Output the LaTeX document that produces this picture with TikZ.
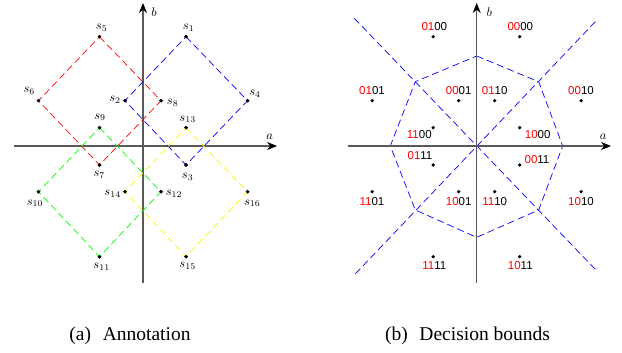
\documentclass[tikz,border=0pt]{standalone}
\usepackage{fontspec}
\setmainfont{Liberation Serif}
\newfontfamily\labfont{Liberation Sans}
\usetikzlibrary{arrows.meta}
\begin{document}
\begin{tikzpicture}[x=1pt,y=-1pt,
  dot/.style={circle,fill=black,inner sep=0pt,minimum size=3.6pt},
  axis/.style={draw=black!65,line width=1.1pt,-{Stealth[black,length=10pt,width=8pt]}},
  slbl/.style={inner sep=0pt,font=\fontsize{10}{12}\selectfont,scale=1.25,transform shape},
  blbl/.style={inner sep=0pt,font=\fontsize{11.5}{13}\selectfont\labfont},
  sq/.style={line width=0.7pt,dash pattern=on 7pt off 4pt},
  bound/.style={draw=blue,line width=0.7pt,dash pattern=on 7pt off 4pt},
  captxt/.style={inner sep=0pt,anchor=base,font=\fontsize{19.5}{22}\selectfont}]
\useasboundingbox (0,0) rectangle (622,353);
% ---------------- left panel ----------------
\coordinate (lw) at (14,146); \coordinate (le) at (277,146);
\coordinate (ls) at (143,283); \coordinate (ln) at (143,3);
\draw[axis] (lw) -- (le);
\draw[axis] (ls) -- (ln);
\node[slbl] (la) at (269.7,136.5) {$a$};
\node[slbl] (lb) at (154,11.7) {$b$};
\node[dot] (s1) at (186,36.7) {};
\node[dot] (s2) at (125,100.7) {};
\node[dot] (s3) at (186,165) {};
\node[dot] (s4) at (247.5,100.7) {};
\node[dot] (s5) at (99.5,36.7) {};
\node[dot] (s6) at (38.5,100.7) {};
\node[dot] (s7) at (99.5,165) {};
\node[dot] (s8) at (161,100.7) {};
\node[dot] (s9) at (99.5,127.7) {};
\node[dot] (s10) at (38.5,191.7) {};
\node[dot] (s11) at (99.5,256.7) {};
\node[dot] (s12) at (161,191.7) {};
\node[dot] (s13) at (186,127.7) {};
\node[dot] (s14) at (125,191.7) {};
\node[dot] (s15) at (186,256.7) {};
\node[dot] (s16) at (247.5,191.7) {};
\draw[sq,blue] (s1.center) -- (s4.center) -- (s3.center) -- (s2.center) -- cycle;
\draw[sq,red] (s5.center) -- (s8.center) -- (s7.center) -- (s6.center) -- cycle;
\draw[sq,green] (s9.center) -- (s12.center) -- (s11.center) -- (s10.center) -- cycle;
\draw[sq,yellow] (s13.center) -- (s16.center) -- (s15.center) -- (s14.center) -- cycle;
\foreach \n in {1,...,16} {\node[dot] at (s\n) {};}
\node[slbl] (t1) at (188.7,27.7) {$s_{1}$};
\node[slbl] (t5) at (101.7,27.7) {$s_{5}$};
\node[slbl] (t6) at (29.3,90.7) {$s_{6}$};
\node[slbl] (t2) at (115,100) {$s_{2}$};
\node[slbl] (t8) at (172.7,102.7) {$s_{8}$};
\node[slbl] (t4) at (255,94) {$s_{4}$};
\node[slbl] (t9) at (100,117.3) {$s_{9}$};
\node[slbl] (t13) at (187.7,119.3) {$s_{13}$};
\node[slbl] (t7) at (99.3,175) {$s_{7}$};
\node[slbl] (t3) at (187.7,176.7) {$s_{3}$};
\node[slbl] (t14) at (112.7,194) {$s_{14}$};
\node[slbl] (t12) at (174,194) {$s_{12}$};
\node[slbl] (t10) at (35,203.3) {$s_{10}$};
\node[slbl] (t16) at (252.3,203.3) {$s_{16}$};
\node[slbl] (t11) at (101.7,266.7) {$s_{11}$};
\node[slbl] (t15) at (187.7,266) {$s_{15}$};
% ---------------- right panel ----------------
\coordinate (rw) at (347.7,146); \coordinate (re) at (611,146);
\coordinate (rs) at (476.7,283); \coordinate (rn) at (476.7,3);
\coordinate (o) at (476.7,146);
\coordinate (v1) at (476.7,56);
\coordinate (v2) at (538.7,81.7);
\coordinate (v3) at (562.7,146);
\coordinate (v4) at (538.7,210);
\coordinate (v5) at (476.7,237.3);
\coordinate (v6) at (415.3,210);
\coordinate (v7) at (390.3,146);
\coordinate (v8) at (415.3,81.7);
\coordinate (d1) at (354.3,18.3);
\coordinate (d2) at (595.3,269.3);
\coordinate (d3) at (595.3,21.7);
\coordinate (d4) at (354.3,275);
\draw[bound] (v1) -- (v2) -- (v3) -- (v4) -- (v5) -- (v6) -- (v7) -- (v8) -- cycle;
\draw[bound] (d1) -- (d2);
\draw[bound] (d3) -- (d4);
\draw[axis] (rw) -- (re);
\draw[axis] (rs) -- (rn);
\node[slbl] (ra) at (603.3,136.5) {$a$};
\node[slbl] (rb) at (489.3,11.7) {$b$};
\node[dot] (r1) at (519.7,36.7) {};
\node[dot] (r2) at (458.7,100.7) {};
\node[dot] (r3) at (519.7,165) {};
\node[dot] (r4) at (581.2,100.7) {};
\node[dot] (r5) at (433.2,36.7) {};
\node[dot] (r6) at (372.2,100.7) {};
\node[dot] (r7) at (433.2,165) {};
\node[dot] (r8) at (494.7,100.7) {};
\node[dot] (r9) at (433.2,127.7) {};
\node[dot] (r10) at (372.2,191.7) {};
\node[dot] (r11) at (433.2,256.7) {};
\node[dot] (r12) at (494.7,191.7) {};
\node[dot] (r13) at (519.7,127.7) {};
\node[dot] (r14) at (458.7,191.7) {};
\node[dot] (r15) at (519.7,256.7) {};
\node[dot] (r16) at (581.2,191.7) {};
\node[blbl] (b1) at (520.3,26.7) {\textcolor{red}{00}00};
\node[blbl] (b5) at (434.3,26.7) {\textcolor{red}{01}00};
\node[blbl] (b6) at (372,91) {\textcolor{red}{01}01};
\node[blbl] (b2) at (458.7,91) {\textcolor{red}{00}01};
\node[blbl] (b8) at (494.7,91) {\textcolor{red}{01}10};
\node[blbl] (b4) at (581,91) {\textcolor{red}{00}10};
\node[blbl] (b9) at (419.3,135) {\textcolor{red}{11}00};
\node[blbl] (b13) at (537.7,135) {\textcolor{red}{10}00};
\node[blbl] (b7) at (420,155.7) {\textcolor{red}{01}11};
\node[blbl] (b3) at (537,159.3) {\textcolor{red}{00}11};
\node[blbl] (b10) at (372,201.7) {\textcolor{red}{11}01};
\node[blbl] (b14) at (458.7,201.7) {\textcolor{red}{10}01};
\node[blbl] (b12) at (494.7,201.7) {\textcolor{red}{11}10};
\node[blbl] (b16) at (581,201.7) {\textcolor{red}{10}10};
\node[blbl] (b11) at (434.3,266) {\textcolor{red}{11}11};
\node[blbl] (b15) at (520.3,266) {\textcolor{red}{10}11};
% ---------------- captions ----------------
\node[captxt] (capa) at (130,340) {(a)\hspace{0.6em}Annotation};
\node[captxt] (capb) at (467.5,340) {(b)\hspace{0.6em}Decision bounds};
\end{tikzpicture}
\end{document}
